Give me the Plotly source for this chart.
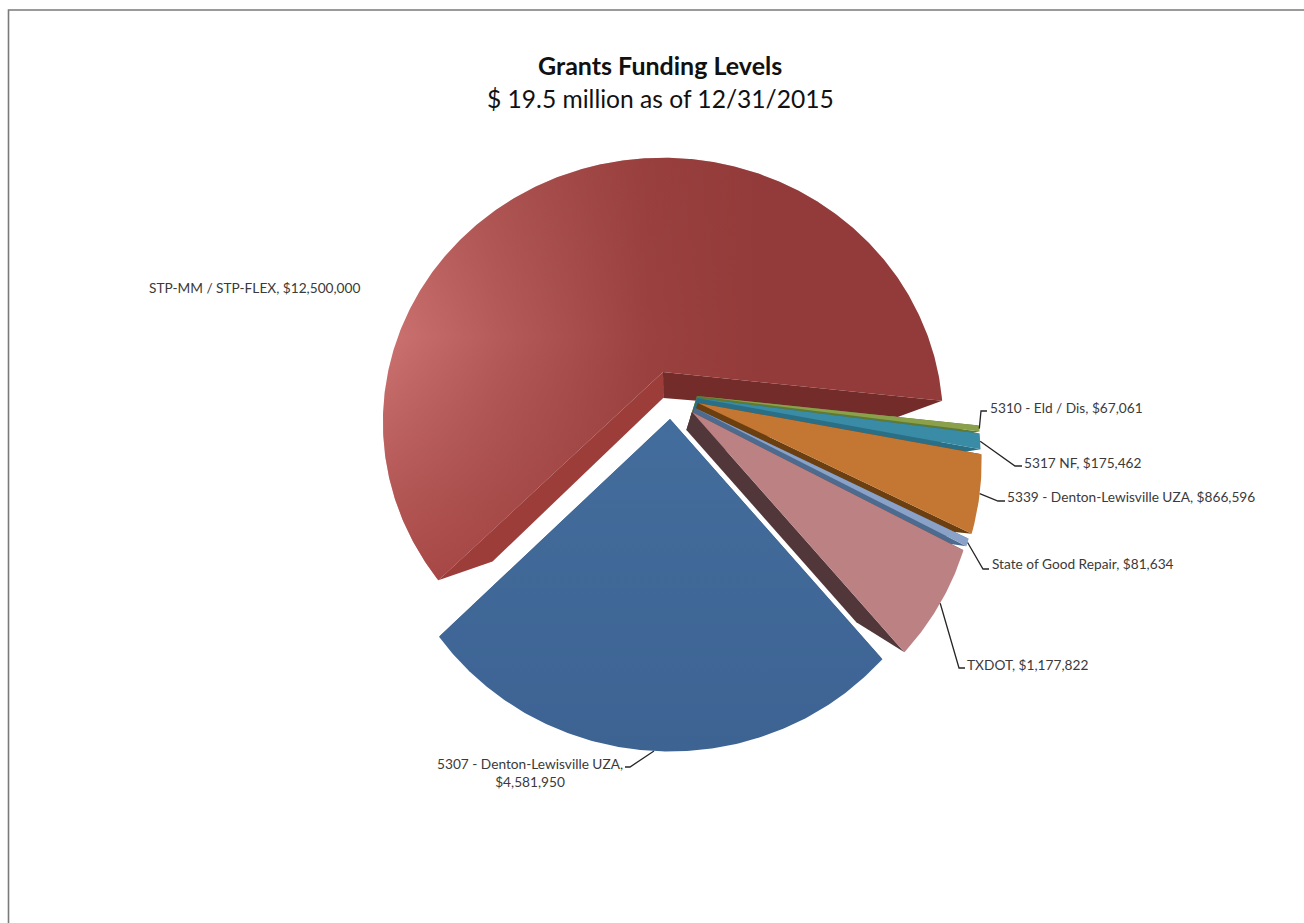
import numpy as np
import plotly.graph_objects as go

# Grant programmes, clockwise from the lower left of the pie
categories = ["STP-MM / STP-FLEX", "5310 - Eld / Dis", "5317 NF",
              "5339 - Denton-Lewisville UZA", "State of Good Repair",
              "TXDOT", "5307 - Denton-Lewisville UZA"]
funding = [12500000, 67061, 175462, 866596, 81634, 1177822, 4581950]
value_text = ["$12,500,000", "$67,061", "$175,462", "$866,596",
              "$81,634", "$1,177,822", "$4,581,950"]

face_colors = ["#98403e", "#8aa04a", "#3a8ba6", "#c47633", "#8aa2c8", "#bc8183", "#3f6797"]
wall_colors = ["#742c2b", "#5f7a33", "#2a6f85", "#6b3f10", "#4d6a8f", "#52373a", "#2f4f78"]

# Slice explosion in pixels (dx, dy)
explode = [(0, 0), (34, 24), (34, 26), (35, 31), (32, 36), (29, 40), (7, 47)]

# Perspective disc: hub position, radii and foreshortening.  The slices pulled
# towards the viewer use a slightly larger projection than the main slice.
HUB_X, HUB_Y = 663, 372
MAIN_DISC = (275, 255, 0.19)
NEAR_DISC = (277, 261, 0.215)
VANISH = np.array([664.0, 502.0])
DEPTH = 0.2
START_DEG = 225.0


def project(theta_deg, radius=1.0, disc=NEAR_DISC):
    """Map a disc angle (clockwise from top) to screen coordinates."""
    rx, ry, k = disc
    t = np.radians(theta_deg)
    u, v = radius * np.sin(t), radius * np.cos(t)
    den = 1 + k * v
    return np.array([HUB_X + rx * u / den, HUB_Y - ry * v / den]).T


def lower(p, depth=DEPTH):
    """Push a point on the top face down to the bottom face."""
    return p + depth * (VANISH - p)


def polygon(points):
    pts = np.vstack([points, points[:1]])
    return pts[:, 0], pts[:, 1]


fractions = np.array(funding) / sum(funding)
edges = START_DEG + np.concatenate([[0], np.cumsum(fractions) * 360])

fig = go.Figure()

for i, name in enumerate(categories):
    a0, a1 = edges[i], edges[i + 1]
    off = np.array(explode[i], dtype=float)
    disc = MAIN_DISC if i == 0 else NEAR_DISC
    hub = project(0.0, 0.0, disc) + off
    p0, p1 = project(a0, 1.0, disc) + off, project(a1, 1.0, disc) + off
    rim = project(np.linspace(a0, a1, max(int(a1 - a0) * 2, 8)), 1.0, disc) + off

    # radial side walls sit under the top face
    wall_specs = [(p1, wall_colors[i], 0.16 if i == 0 else DEPTH),
                  (p0, "#9c3d3a" if i == 0 else wall_colors[i], 0.24 if i == 0 else DEPTH)]
    for p, colour, depth in wall_specs:
        x, y = polygon(np.array([hub, p, lower(p, depth), lower(hub)]))
        fig.add_trace(go.Scatter(x=x, y=y, mode="lines", fill="toself", fillcolor=colour,
                                 line=dict(width=0), hoverinfo="skip", showlegend=False))

    x, y = polygon(np.vstack([hub, rim]))
    style = dict(fillcolor=face_colors[i])
    if i == 0:
        style = dict(fillgradient=dict(type="horizontal", start=385, stop=760,
                                       colorscale=[[0, "#cc7270"], [0.3, "#b55c5a"],
                                                   [0.7, "#9b4240"], [1, "#933b3a"]]))
    elif i == len(categories) - 1:
        style = dict(fillgradient=dict(type="vertical", start=419, stop=752,
                                       colorscale=[[0, "#436d9c"], [1, "#3d6393"]]))
    fig.add_trace(go.Scatter(x=x, y=y, mode="lines", fill="toself", line=dict(width=0),
                             name=name, text=f"{name}, {value_text[i]}", hoverinfo="text",
                             showlegend=False, **style))
    if i == 0:
        # darken the far and near parts of the large slice
        fig.add_trace(go.Scatter(x=x, y=y, mode="lines", fill="toself", line=dict(width=0),
                                 hoverinfo="skip", showlegend=False,
                                 fillgradient=dict(type="vertical", start=157, stop=585,
                                                   colorscale=[[0, "rgba(147,59,58,0.35)"],
                                                               [0.42, "rgba(147,59,58,0)"],
                                                               [1, "rgba(158,60,58,0.75)"]])))

# Label placement: elbow and text anchor per slice (no leader for the largest slice)
elbows = [None, (981, 411), (1015, 466), (998, 501), (983, 569), (959, 668), (630, 767)]
stubs = [None, (987, 411), (1022, 466), (1005, 501), (989, 569), (965, 668), (625, 767)]
anchors = [(147, 287, "left"), (988, 407, "left"), (1022, 462, "left"), (1005, 496, "left"),
           (990, 563, "left"), (965, 664, "left"), (530, 772, "center")]

shapes = []
for i in range(len(categories)):
    if elbows[i] is not None:
        mid = (edges[i] + edges[i + 1]) / 2
        s = project(mid) + np.array(explode[i], dtype=float)
        path = f"M{s[0]:.1f},{s[1]:.1f} L{elbows[i][0]},{elbows[i][1]} L{stubs[i][0]},{stubs[i][1]}"
        shapes.append(dict(type="path", path=path, xref="x", yref="y",
                           line=dict(color="#262626", width=1.3), layer="above"))

annotations = []
for i, (ax, ay, align) in enumerate(anchors):
    sep = ",<br>" if i == len(categories) - 1 else ", "
    annotations.append(dict(x=ax, y=ay, xref="x", yref="y", xanchor=align, yanchor="middle",
                            text=f"{categories[i]}{sep}{value_text[i]}", showarrow=False,
                            align=align, font=dict(family="Lato", size=13.7, color="#3a3a3a")))

annotations.append(dict(x=660, y=65, xref="x", yref="y", xanchor="center", yanchor="middle",
                        text="<b>Grants Funding Levels</b>", showarrow=False,
                        font=dict(family="Lato", size=25, color="#111111")))
annotations.append(dict(x=660, y=98, xref="x", yref="y", xanchor="center", yanchor="middle",
                        text="$ 19.5 million as of 12/31/2015", showarrow=False,
                        font=dict(family="Lato", size=24.6, color="#111111")))

# Chart-area frame running off the page at right and bottom
frame = "M8.5,923 L8.5,10 L1304,10"
shapes.append(dict(type="path", path=frame, xref="x", yref="y",
                   line=dict(color="#7a7a7a", width=1.6)))

fig.update_layout(
    width=1304, height=923, margin=dict(l=0, r=0, t=0, b=0),
    paper_bgcolor="white", plot_bgcolor="white", showlegend=False,
    xaxis=dict(range=[0, 1304], visible=False, fixedrange=True),
    yaxis=dict(range=[923, 0], visible=False, fixedrange=True),
    shapes=shapes, annotations=annotations,
)

fig.write_html("out.html")
